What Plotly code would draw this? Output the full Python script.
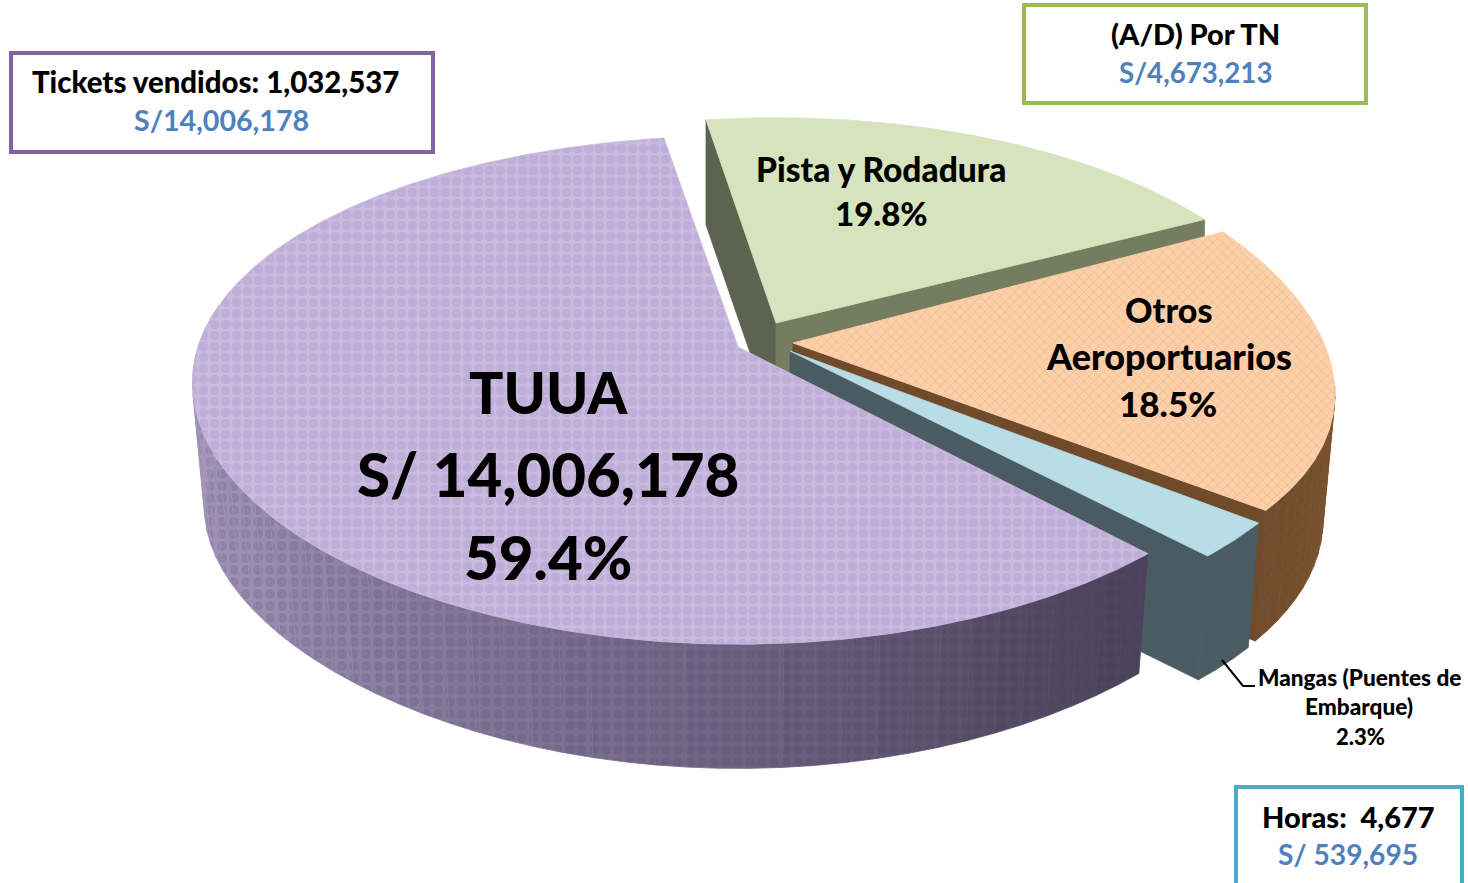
import numpy as np
import plotly.graph_objects as go

# ---- data ----
categories = ["Pista y Rodadura", "Otros Aeroportuarios", "Mangas (Puentes de Embarque)", "TUUA"]
shares = [19.8, 18.5, 2.3, 59.4]
tuua_amount = "S/ 14,006,178"
tickets_sold = "1,032,537"
ad_amount = "S/4,673,213"
tuua_box_amount = "S/14,006,178"
hours = "4,677"
mangas_amount = "S/ 539,695"

# ---- styling / projection ----
START = -9.0
FONT = "Lato"
geom = {
    "Pista y Rodadura": dict(apex=(776, 323), A=522.0, B=240.0, Px=0.169, Py=0.169, Bb=240.0, Pb=0.169, D=105.0, S=1.0),
    "Otros Aeroportuarios": dict(apex=(793, 343), A=531.0, B=250.0, Px=0.2, Py=0.1, Bb=245.0, Pb=0.169, D=126.0, S=0.978),
    "Mangas (Puentes de Embarque)": dict(apex=(790, 351), A=538.0, B=245.0, Px=0.169, Py=0.169, Bb=240.0, Pb=0.169, D=128.0, S=0.978),
    "TUUA": dict(apex=(738, 347), A=540.0, B=247.0, Px=0.142, Py=0.169, Bb=223.0, Pb=0.24, D=128.0, S=0.978),
}


def pt(g, deg, bottom=False):
    t = np.radians(deg)
    u, v = np.sin(t), np.cos(t)
    ax, ay = g["apex"]
    if bottom:
        return (ax + g["A"] * u / (1 + g["Px"] * v) * g["S"],
                ay + g["D"] - g["Bb"] * v / (1 + g["Pb"] * v))
    return ax + g["A"] * u / (1 + g["Px"] * v), ay - g["B"] * v / (1 + g["Py"] * v)


def arc(g, a, b, bottom=False):
    ds = np.linspace(a, b, max(2, int(abs(b - a) * 2) + 1))
    return [pt(g, d, bottom) for d in ds]


def lerp(c1, c2, f):
    a = [int(c1[i:i + 2], 16) for i in (1, 3, 5)]
    b = [int(c2[i:i + 2], 16) for i in (1, 3, 5)]
    return "#%02x%02x%02x" % tuple(round(x + (y - x) * f) for x, y in zip(a, b))


def ramp(stops, d):
    for (d0, c0), (d1, c1) in zip(stops, stops[1:]):
        if d <= d1:
            return lerp(c0, c1, (d - d0) / (d1 - d0))
    return stops[-1][1]


fig = go.Figure()


def poly(points, color, pattern=None):
    xs = [p[0] for p in points] + [points[0][0]]
    ys = [p[1] for p in points] + [points[0][1]]
    kw = {}
    if pattern:
        kw["fillpattern"] = dict(shape=pattern[0], bgcolor=color, fgcolor=pattern[1],
                                 size=pattern[2], solidity=pattern[3])
    fig.add_trace(go.Scatter(x=xs, y=ys, mode="lines", fill="toself", fillcolor=color,
                             line=dict(color=color, width=0.8),
                             hoverinfo="skip", showlegend=False, **kw))


def wall(g, a, b, stops, dark=None, n=24, pat=".", size=12, sol=0.55):
    edges = np.linspace(a, b, n + 1)
    for i in range(n):
        col = ramp(stops, (edges[i] + edges[i + 1]) / 2)
        pattern = (pat, lerp(col, dark, 0.28), size, sol) if dark else None
        poly(arc(g, edges[i], edges[i + 1]) + arc(g, edges[i + 1], edges[i], True), col, pattern)


def cut(g, deg, color):
    ax, ay = g["apex"]
    poly([(ax, ay), pt(g, deg), pt(g, deg, True), (ax, ay + g["D"])], color)


ang = np.cumsum([START] + [s * 3.6 for s in shares])
a_p, a_o, a_m, a_t = [(ang[i], ang[i + 1]) for i in range(4)]
g_p, g_o, g_m, g_t = [geom[c] for c in categories]

# Pista y Rodadura (back)
cut(g_p, a_p[0], "#5d6350")
cut(g_p, a_p[1], "#757d60")
poly([g_p["apex"]] + arc(g_p, *a_p), "#d7e3bd")

# Otros
wall(g_o, 99.7, a_o[1], [(90, "#82572f"), (135, "#6f4c2e")], "#4f3319", 12, "x", 7, 0.25)
cut(g_o, a_o[1], "#6f4a2b")
poly([g_o["apex"]] + arc(g_o, *a_o), "#fcd0ab", ("x", "#f5ab78", 7, 0.25))

# Mangas
wall(g_m, *a_m, [(120, "#4a5c62"), (140, "#4a5c62")], None, 3)
cut(g_m, a_m[1], "#4a5c62")
poly([g_m["apex"]] + arc(g_m, *a_m), "#b7dde7")

# TUUA (front)
tuua_stops = [(130, "#4a4058"), (150, "#534862"), (180, "#6e6482"), (235, "#9a8db0"), (285, "#ab9dc1")]
wall(g_t, a_t[0], 280, tuua_stops, "#3f3358", 48)
poly([g_t["apex"]] + arc(g_t, *a_t), "#c9badf", (".", "#b5a2cf", 11, 0.6))

# Callout boxes
boxes = [(11, 53, 433, 152, "#8064a2"), (1024, 5, 1366, 103, "#9bbb59"), (1236, 787, 1462, 890, "#4bacc6")]
shapes = [dict(type="rect", xref="x", yref="y", x0=b[0], y0=b[1], x1=b[2], y1=b[3],
               line=dict(color=b[4], width=4), fillcolor="white", layer="above") for b in boxes]
shapes.append(dict(type="path", xref="x", yref="y", path="M1222,660 L1243,686 L1255,686",
                   line=dict(color="black", width=2), layer="above"))

BLACK, BLUE = "#000000", "#4f81bd"
labels = [
    ("TUUA", 548, 392, 57, BLACK),
    (tuua_amount, 548, 474, 60, BLACK),
    ("59.4%", 548, 557, 60, BLACK),
    (categories[0], 881, 169, 33.5, BLACK),
    ("19.8%", 881, 213, 33, BLACK),
    ("Otros", 1168, 309, 34, BLACK),
    ("Aeroportuarios", 1169, 356, 36, BLACK),
    ("18.5%", 1168, 403, 35, BLACK),
    ("Mangas (Puentes de", 1359, 677, 22.6, BLACK),
    ("Embarque)", 1359, 706, 22.6, BLACK),
    ("2.3%", 1360, 736, 22, BLACK),
    ("Tickets vendidos: " + tickets_sold, 215, 81, 29.4, BLACK),
    (tuua_box_amount, 221, 120, 28.6, BLUE),
    ("(A/D) Por TN", 1195, 33, 29, BLACK),
    (ad_amount, 1195, 72, 27.7, BLUE),
    ("Horas:  " + hours, 1348, 816, 29, BLACK),
    (mangas_amount, 1348, 854, 28.2, BLUE),
]
annots = [dict(text=t, x=x, y=y, xref="x", yref="y", showarrow=False,
               xanchor="center", yanchor="middle",
               font=dict(family=FONT, size=s, color=c, weight=700 if c == BLUE else 900))
          for t, x, y, s, c in labels]

fig.update_layout(
    width=1468, height=883, margin=dict(l=0, r=0, t=0, b=0),
    paper_bgcolor="white", plot_bgcolor="white", showlegend=False,
    xaxis=dict(range=[0, 1468], visible=False, fixedrange=True),
    yaxis=dict(range=[883, 0], visible=False, fixedrange=True),
    shapes=shapes, annotations=annots,
)
fig.write_html("out.html", config=dict(displayModeBar=False),
               post_script="document.body.style.margin='0';document.body.style.overflow='hidden';")
